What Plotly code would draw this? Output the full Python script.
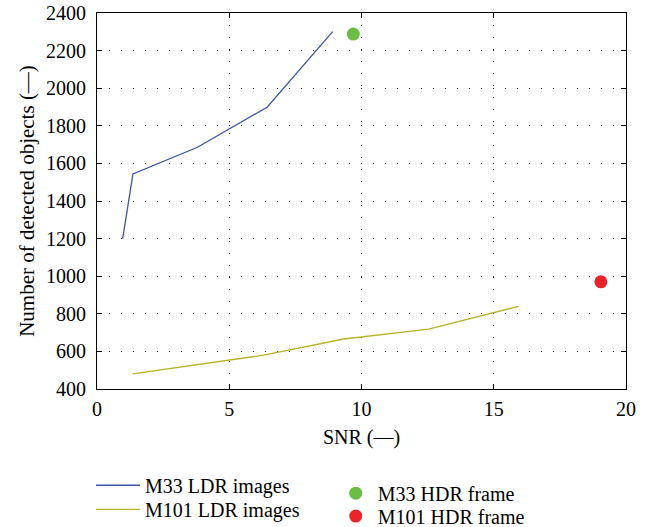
import plotly.graph_objects as go

# SNR vs number of detected objects
m33_snr = [0.97, 1.36, 3.80, 6.43, 8.91]
m33_count = [1200, 1544, 1686, 1899, 2301]

m101_snr = [1.35, 6.30, 9.33, 12.54, 15.94]
m101_count = [480, 580, 666, 719, 840]

m33_hdr_snr = [9.69]
m33_hdr_count = [2288]

m101_hdr_snr = [19.05]
m101_hdr_count = [970]

FONT = "Times New Roman, Liberation Serif, DejaVu Serif, serif"

fig = go.Figure()
fig.add_trace(go.Scatter(x=m33_snr, y=m33_count, mode="lines", name="M33 LDR images",
                         line=dict(color="#3b57a6", width=1.3), legend="legend"))
fig.add_trace(go.Scatter(x=m101_snr, y=m101_count, mode="lines", name="M101 LDR images",
                         line=dict(color="#b8b325", width=1.3), legend="legend2"))
fig.add_trace(go.Scatter(x=m33_hdr_snr, y=m33_hdr_count, mode="markers", name="M33 HDR frame",
                         marker=dict(color="#6cbd45", size=13), legend="legend3"))
fig.add_trace(go.Scatter(x=m101_hdr_snr, y=m101_hdr_count, mode="markers", name="M101 HDR frame",
                         marker=dict(color="#e8232a", size=13), legend="legend4"))
fig.update_traces(showlegend=True)

axis_common = dict(
    showline=True, linecolor="black", linewidth=1.2, mirror="ticks",
    ticks="inside", ticklen=5, tickcolor="black",
    showgrid=True, gridcolor="#222222", griddash="1px,11px", gridwidth=1.2,
    zeroline=False,
    tickfont=dict(family=FONT, size=20, color="black"),
)

fig.update_xaxes(range=[0, 20], dtick=5, ticklabelstandoff=2,
                 title=dict(text="SNR (—)", font=dict(family=FONT, size=20, color="black"), standoff=10),
                 **axis_common)
fig.update_yaxes(range=[400, 2400], dtick=200, ticklabelstandoff=6,
                 title=dict(text="Number of detected objects (—)", font=dict(family=FONT, size=21, color="black"), standoff=5),
                 **axis_common)


def legend_box(x, y, width):
    return dict(x=x, y=y, xanchor="left", yanchor="middle",
                font=dict(family=FONT, size=20, color="black"),
                bgcolor="rgba(0,0,0,0)", itemwidth=width)


fig.update_layout(
    width=652, height=527,
    showlegend=True,
    margin=dict(l=97, r=26, t=13, b=138, autoexpand=False),
    paper_bgcolor="white", plot_bgcolor="white",
    font=dict(family=FONT, size=20, color="black"),
    legend=legend_box(-0.0113, -0.256, 44),
    legend2=legend_box(-0.0113, -0.320, 44),
    legend3=legend_box(0.4475, -0.277, 34),
    legend4=legend_box(0.4475, -0.338, 34),
)

fig.write_html("out.html")
